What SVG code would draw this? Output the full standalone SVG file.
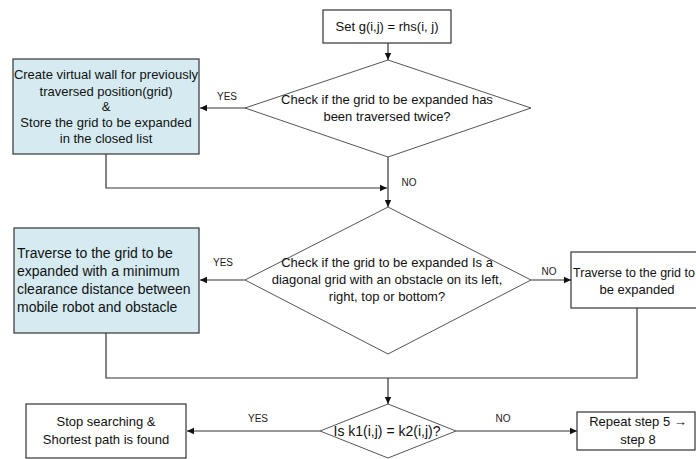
<svg xmlns="http://www.w3.org/2000/svg" width="696" height="459" viewBox="0 0 696 459">
<style>
  .box { fill: #ffffff; stroke: #333333; stroke-width: 1.2; }
  .blue { fill: #d5ebf1; }
  .dia { fill: #ffffff; stroke: #555555; stroke-width: 1; }
  .t { font-family: "Liberation Sans", Arial, sans-serif; font-size: 13px; fill: #111111; text-anchor: middle; }
  .t14 { font-size: 14px; }
  .tl { text-anchor: start; }
  .lab { font-family: "Liberation Sans", Arial, sans-serif; font-size: 10px; fill: #222222; text-anchor: middle; }
  .c { fill: none; stroke: #333333; stroke-width: 1.2; }
</style>
<defs>
  <marker id="arr" markerWidth="8" markerHeight="8" refX="7" refY="4" orient="auto" markerUnits="userSpaceOnUse">
    <path d="M0,0.8 L7,4 L0,7.2 Z" fill="#111111"/>
  </marker>
</defs>
<rect width="696" height="459" fill="#ffffff"/>

<g id="connectors">
  <line class="c" x1="388" y1="43" x2="388" y2="60" marker-end="url(#arr)"/>
  <line class="c" x1="245" y1="108" x2="200" y2="108" marker-end="url(#arr)"/>
  <polyline class="c" points="106,154 106,188 387,188" marker-end="url(#arr)"/>
  <line class="c" x1="388" y1="157" x2="388" y2="207" marker-end="url(#arr)"/>
  <line class="c" x1="245" y1="280" x2="200" y2="280" marker-end="url(#arr)"/>
  <line class="c" x1="531" y1="280" x2="571" y2="280" marker-end="url(#arr)"/>
  <polyline class="c" points="106,333 106,378 637,378 637,308"/>
  <line class="c" x1="388" y1="378" x2="388" y2="404" marker-end="url(#arr)"/>
  <line class="c" x1="320" y1="431" x2="187" y2="431" marker-end="url(#arr)"/>
  <line class="c" x1="456" y1="431" x2="577" y2="431" marker-end="url(#arr)"/>
  <text class="lab" x="227" y="100">YES</text>
  <text class="lab" x="409" y="186">NO</text>
  <text class="lab" x="223" y="266">YES</text>
  <text class="lab" x="549" y="275">NO</text>
  <text class="lab" x="258" y="422">YES</text>
  <text class="lab" x="503" y="422">NO</text>
</g>

<g id="set-g">
  <rect class="box" x="323" y="10" width="128" height="33"/>
  <text class="t" x="387" y="31">Set g(i,j) = rhs(i, j)</text>
</g>

<g id="check-twice">
  <polygon class="dia" points="388,60 531,108 388,157 245,108"/>
  <text class="t" x="387" y="104">Check if the grid to be expanded has</text>
  <text class="t" x="387" y="121">been traversed twice?</text>
</g>

<g id="virtual-wall">
  <rect class="box blue" x="13" y="59" width="186" height="95"/>
  <text class="t" x="106" y="79">Create virtual wall for previously</text>
  <text class="t" x="106" y="96">traversed position(grid)</text>
  <text class="t" x="106" y="111">&amp;</text>
  <text class="t" x="106" y="127">Store the grid to be expanded</text>
  <text class="t" x="106" y="143">in the closed list</text>
</g>

<g id="check-diagonal">
  <polygon class="dia" points="388,207 531,280 388,354 245,280"/>
  <text class="t" x="387" y="267">Check if the grid to be expanded Is a</text>
  <text class="t" x="387" y="284">diagonal grid with an obstacle on its left,</text>
  <text class="t" x="387" y="301">right, top or bottom?</text>
</g>

<g id="traverse-clearance">
  <rect class="box blue" x="14" y="228" width="185" height="105"/>
  <text class="t t14 tl" x="17" y="258">Traverse to the grid to be</text>
  <text class="t t14 tl" x="17" y="276">expanded with a minimum</text>
  <text class="t t14 tl" x="17" y="294">clearance distance between</text>
  <text class="t t14 tl" x="17" y="312">mobile robot and obstacle</text>
</g>

<g id="traverse">
  <rect class="box" x="571" y="252" width="132" height="56"/>
  <text class="t" x="634" y="277" style="font-size:12.5px">Traverse to the grid to</text>
  <text class="t" x="637" y="294">be expanded</text>
</g>

<g id="check-k">
  <polygon class="dia" points="388,404 456,431 388,458 320,431"/>
  <text class="t t14" x="387" y="436">Is k1(i,j) = k2(i,j)?</text>
</g>

<g id="stop">
  <rect class="box" x="26" y="404" width="160" height="54"/>
  <text class="t" x="106" y="426">Stop searching &amp;</text>
  <text class="t" x="106" y="444">Shortest path is found</text>
</g>

<g id="repeat">
  <rect class="box" x="577" y="412" width="118" height="38"/>
  <text class="t" x="638" y="426">Repeat step 5 <tspan font-weight="bold">→</tspan></text>
  <text class="t" x="638" y="444">step 8</text>
</g>
</svg>
